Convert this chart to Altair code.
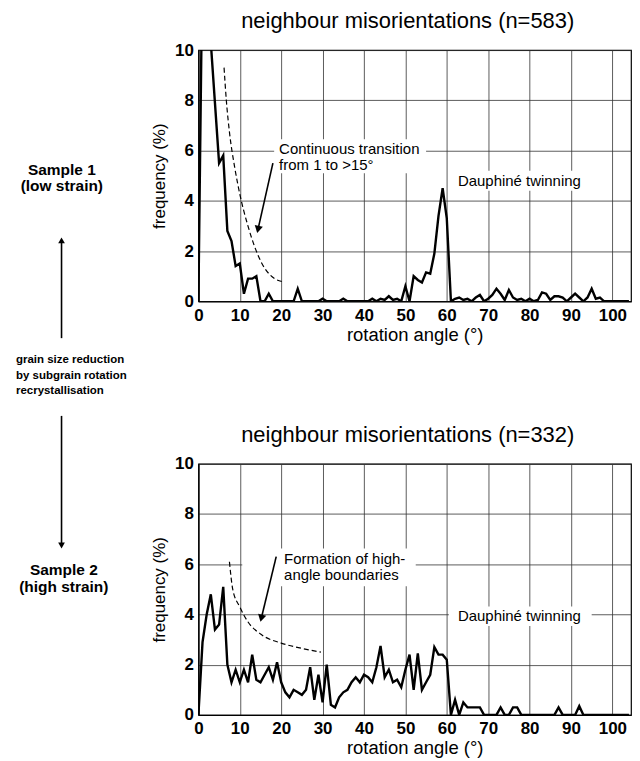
import math
import altair as alt
import pandas as pd

FONT = "Liberation Sans"

# ---------------- data ----------------
angles = list(range(0, 105))

top_freq = [
    0, 14, 16, 10.3, 7.9, 5.5, 5.8, 2.8, 2.4, 1.4,
    1.5, 0.3, 0.9, 0.9, 1.0, 0, 0, 0.3, 0, 0,
    0, 0, 0, 0, 0.5, 0, 0, 0, 0, 0,
    0.1, 0, 0, 0, 0, 0.1, 0, 0, 0, 0,
    0, 0, 0.1, 0, 0.1, 0.05, 0.2, 0.05, 0.1, 0,
    0.6, 0, 1.0, 0.85, 0.75, 1.15, 1.1, 1.9, 3.4, 4.5,
    3.3, 0, 0.1, 0.15, 0.05, 0.1, 0, 0.15, 0.25, 0,
    0.1, 0.25, 0.5, 0.3, 0.05, 0.45, 0.15, 0.05, 0.1, 0,
    0.1, 0, 0.05, 0.35, 0.3, 0.05, 0.2, 0.2, 0.15, 0,
    0.15, 0.3, 0.15, 0, 0.15, 0.5, 0.1, 0.15, 0, 0,
    0, 0, 0, 0, 0,
]

bottom_freq = [
    0, 2.9, 4.0, 4.8, 3.4, 3.6, 5.1, 2.0, 1.3, 1.8,
    1.3, 1.8, 1.3, 2.4, 1.4, 1.3, 1.6, 1.9, 1.4, 2.1,
    1.3, 0.9, 0.7, 1.0, 0.9, 0.8, 1.0, 1.9, 0.6, 1.6,
    0.5, 2.0, 0.4, 0.3, 0.7, 0.9, 1.0, 1.3, 1.5, 1.3,
    1.6, 1.5, 1.3, 1.9, 2.75, 1.5, 1.8, 1.3, 1.4, 1.1,
    1.8, 2.4, 1.0, 2.45, 1.0, 1.3, 1.6, 2.7, 2.4, 2.4,
    2.2, 0, 0.6, 0, 0.5, 0.3, 0.3, 0.3, 0.3, 0,
    0, 0, 0, 0.3, 0, 0, 0.3, 0.3, 0, 0,
    0, 0, 0, 0, 0, 0, 0, 0.3, 0, 0,
    0, 0, 0.35, 0, 0, 0, 0, 0, 0, 0,
    0, 0, 0, 0, 0,
]

x_ticks = [0, 10, 20, 30, 40, 50, 60, 70, 80, 90, 100]
y_ticks = [0, 2, 4, 6, 8, 10]
X_MAX = 104.5
Y_MAX = 10

top_title = "neighbour misorientations (n=583)"
bottom_title = "neighbour misorientations (n=332)"

# dashed guide curves
top_dash_x = [6.2, 6.75, 7.55, 8.75, 9.96, 11.97, 15.2, 18.4, 20.4]
top_dash_y = [9.3, 8.0, 6.67, 5.35, 4.3, 3.0, 1.55, 0.9, 0.78]
bot_dash_x = [7.5, 8.3, 10.0, 12.0, 15.2, 20.0, 25.0, 29.6]
bot_dash_y = [6.1, 5.0, 4.3, 3.7, 3.2, 2.86, 2.65, 2.5]

# annotations inside panels
top_note_text = ["Continuous transition", "from 1 to >15°", "Dauphiné twinning"]
top_note_x = [19.5, 19.5, 62.7]
top_note_y = [6.05, 5.43, 4.8]
top_box_x = [18.3, 61.4]
top_box_x2 = [55.0, 95.0]
top_box_y = [6.45, 5.2]
top_box_y2 = [5.1, 4.4]
top_arrow = [18.0, 5.5, 14.4, 2.86]

bot_note_text = ["Formation of high-", "angle boundaries", "Dauphiné twinning"]
bot_note_x = [20.7, 20.7, 62.7]
bot_note_y = [6.2, 5.56, 3.93]
bot_box_x = [10.6, 60.5]
bot_box_x2 = [52.5, 95.0]
bot_box_y = [6.63, 4.32]
bot_box_y2 = [5.12, 3.54]
bot_arrow = [18.8, 6.3, 15.2, 3.85]

# left-hand side annotation column (y measured down from the top of the upper plot)
left_big_text = ["Sample 1", "(low strain)", "Sample 2", "(high strain)"]
left_big_x = [53, 53, 55, 55]
left_big_y = [120, 136, 522, 539]
left_small_text = ["grain size reduction", "by subgrain rotation", "recrystallisation"]
left_small_x = [7, 7, 7]
left_small_y = [311, 327, 342]
left_arrow_x = [52.7, 52.7]
left_arrow_from = [289, 367]
left_arrow_to = [191, 497]
left_head_shape = ["triangle-up", "triangle-down"]

PW, PH = 434, 252
LW, LH = 138, 600

xscale = alt.Scale(domain=[0, X_MAX], nice=False, zero=False)
yscale = alt.Scale(domain=[0, Y_MAX], nice=False)
xaxis = alt.Axis(values=x_ticks, title="rotation angle (°)", grid=True, ticks=False,
                 labelPadding=6, titlePadding=2, labelFlush=False, titleFontSize=18.5)
yaxis = alt.Axis(values=y_ticks, title="frequency (%)", grid=True, ticks=False,
                 labelPadding=5, titlePadding=6)


def X(f):
    return alt.X(f, type="quantitative", scale=xscale, axis=xaxis)


def Y(f):
    return alt.Y(f, type="quantitative", scale=yscale, axis=yaxis)


def panel(title, freq, dx, dy, ntext, nx, ny, bx, bx2, by, by2, arrow):
    main = pd.DataFrame({"angle": angles, "freq": freq})
    dash = pd.DataFrame({"dx": dx, "dy": dy})
    notes = pd.DataFrame({"nx": nx, "ny": ny, "t": ntext})
    boxes = pd.DataFrame({"bx": bx, "bx2": bx2, "by": by, "by2": by2})
    arr = pd.DataFrame({"ax": [arrow[0]], "ay": [arrow[1]], "ax2": [arrow[2]], "ay2": [arrow[3]]})
    # pixel direction of arrow for head rotation
    ppx = PW / X_MAX
    ppy = PH / Y_MAX
    ddx = (arrow[2] - arrow[0]) * ppx
    ddy = (arrow[1] - arrow[3]) * ppy
    ang = math.degrees(math.atan2(-ddx, ddy)) % 360

    line = alt.Chart(main).mark_line(color="black", strokeWidth=2.4, clip=True).encode(
        x=X("angle"), y=Y("freq"))
    dl = alt.Chart(dash).mark_line(color="black", strokeWidth=1.2, strokeDash=[5, 3],
                                   interpolate="monotone").encode(x=X("dx"), y=Y("dy"))
    box = alt.Chart(boxes).mark_rect(fill="white").encode(
        x=X("bx"), x2="bx2", y=Y("by"), y2="by2")
    txt = alt.Chart(notes).mark_text(align="left", baseline="middle", font=FONT,
                                     fontSize=15, color="black").encode(
        x=X("nx"), y=Y("ny"), text="t:N")
    rule = alt.Chart(arr).mark_rule(color="black", strokeWidth=1.6).encode(
        x=X("ax"), y=Y("ay"), x2="ax2", y2="ay2")
    head = alt.Chart(arr).mark_point(shape="triangle-down", filled=True, color="black",
                                     opacity=1, size=70, angle=ang).encode(
        x=X("ax2"), y=Y("ay2"))
    return alt.layer(box, line, dl, txt, rule, head).properties(
        width=PW, height=PH,
        title=alt.Title(title, fontSize=22, font=FONT, fontWeight="normal",
                        anchor="middle", frame="group", offset=8, color="black", dx=-7))


top = panel(top_title, top_freq, top_dash_x, top_dash_y, top_note_text, top_note_x,
            top_note_y, top_box_x, top_box_x2, top_box_y, top_box_y2, top_arrow)
bottom = panel(bottom_title, bottom_freq, bot_dash_x, bot_dash_y, bot_note_text, bot_note_x,
               bot_note_y, bot_box_x, bot_box_x2, bot_box_y, bot_box_y2, bot_arrow)

lx = alt.Scale(domain=[0, LW], nice=False, zero=False)
ly = alt.Scale(domain=[0, LH], nice=False, zero=False, reverse=True)
big = pd.DataFrame({"x": left_big_x, "y": left_big_y, "t": left_big_text})
small = pd.DataFrame({"x": left_small_x, "y": left_small_y, "t": left_small_text})
arrows = pd.DataFrame({"x": left_arrow_x, "y": left_arrow_from, "y2": left_arrow_to,
                       "s": left_head_shape})

lbig = alt.Chart(big).mark_text(align="center", baseline="middle", font=FONT, fontSize=15.5,
                                fontWeight="bold", color="black").encode(
    x=alt.X("x:Q", scale=lx, axis=None), y=alt.Y("y:Q", scale=ly, axis=None), text="t:N")
lsmall = alt.Chart(small).mark_text(align="left", baseline="middle", font=FONT, fontSize=11.5,
                                    fontWeight="bold", color="black").encode(
    x=alt.X("x:Q", scale=lx, axis=None), y=alt.Y("y:Q", scale=ly, axis=None), text="t:N")
lrule = alt.Chart(arrows).mark_rule(color="black", strokeWidth=1.6).encode(
    x=alt.X("x:Q", scale=lx, axis=None), y=alt.Y("y:Q", scale=ly, axis=None), y2="y2:Q")
lhead = alt.Chart(arrows).mark_point(filled=True, color="black", opacity=1, size=45).encode(
    x=alt.X("x:Q", scale=lx, axis=None), y=alt.Y("y2:Q", scale=ly, axis=None),
    shape=alt.Shape("s:N", scale=None))
left = alt.layer(lrule, lhead, lbig, lsmall).properties(
    width=LW, height=LH, view=alt.ViewBackground(stroke="transparent"))

right = alt.vconcat(top, bottom, spacing=78)
chart = alt.hconcat(left, right, spacing=2).properties(padding=0).configure_view(
    stroke="black", strokeWidth=1.2
).configure_axis(
    labelFont=FONT, labelFontSize=17, labelFontWeight="bold", labelColor="black",
    titleFont=FONT, titleFontSize=17, titleFontWeight="normal", titleColor="black",
    domainColor="black", domainWidth=1.2, gridColor="#333333", gridWidth=0.8, gridOpacity=1,
)

chart.save("out.html", embed_options={"renderer": "svg", "actions": False})
